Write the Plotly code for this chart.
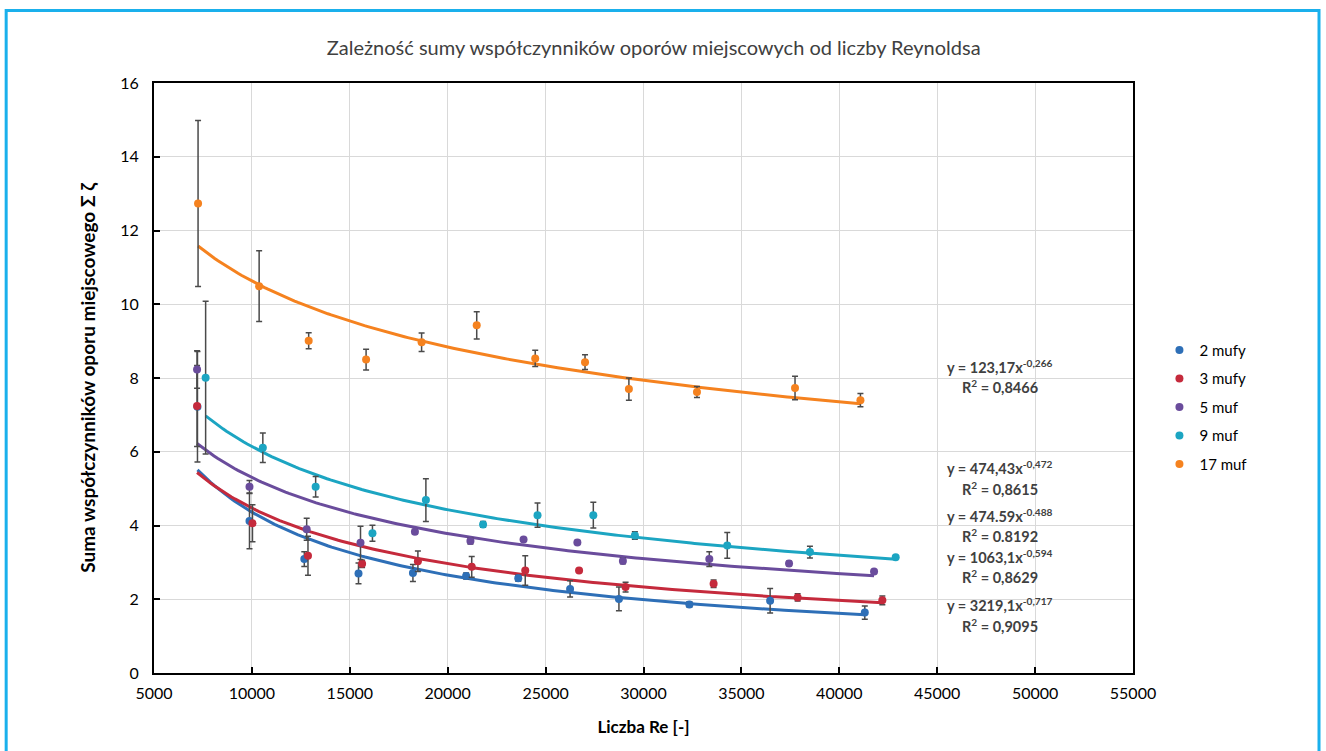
import numpy as np
import plotly.graph_objects as go

# ---------------- data ----------------
series_names = ["2 mufy", "3 mufy", "5 muf", "9 muf", "17 muf"]
series_colors = ["#2e6fb7", "#c52a3c", "#6a4c9c", "#1ca5c2", "#f5821f"]

re_2 = [7220, 9877, 12676, 15445, 18224, 20941, 23604, 26251, 28745, 32343, 36467, 41302]
z_2 = [7.22, 4.12, 3.09, 2.70, 2.71, 2.63, 2.57, 2.28, 2.01, 1.86, 1.96, 1.64]
e_2 = [1.50, 0.75, 0.20, 0.28, 0.23, 0.08, 0.08, 0.22, 0.32, 0.07, 0.33, 0.18]

re_3 = [7199, 10029, 12864, 15628, 18478, 21227, 23960, 26709, 29085, 33580, 37872, 42198]
z_3 = [7.24, 4.06, 3.18, 2.96, 3.03, 2.88, 2.78, 2.78, 2.33, 2.42, 2.05, 1.97]
e_3 = [1.10, 0.50, 0.53, 0.10, 0.28, 0.28, 0.40, 0.05, 0.13, 0.10, 0.10, 0.12]

re_5 = [7199, 9877, 12798, 15547, 18326, 21161, 23874, 26622, 28948, 33361, 37433, 41775]
z_5 = [8.23, 5.05, 3.90, 3.53, 3.83, 3.58, 3.62, 3.54, 3.04, 3.09, 2.97, 2.75]
e_5 = [0.51, 0.17, 0.30, 0.45, 0.06, 0.08, 0.05, 0.05, 0.08, 0.20, 0.06, 0.05]

re_9 = [7637, 10558, 13256, 16157, 18886, 21807, 24588, 27437, 29559, 34278, 38500, 42880]
z_9 = [8.01, 6.11, 5.05, 3.79, 4.69, 4.03, 4.28, 4.28, 3.73, 3.46, 3.28, 3.14]
e_9 = [2.07, 0.40, 0.28, 0.22, 0.58, 0.08, 0.33, 0.35, 0.10, 0.35, 0.16, 0.03]

re_17 = [7250, 10370, 12900, 15832, 18667, 21482, 24470, 27014, 29254, 32731, 37739, 41079]
z_17 = [12.73, 10.49, 9.01, 8.50, 8.97, 9.43, 8.53, 8.43, 7.70, 7.62, 7.73, 7.40]
e_17 = [2.25, 0.96, 0.22, 0.28, 0.25, 0.37, 0.22, 0.20, 0.30, 0.15, 0.32, 0.18]

# power trendline coefficients y = a * x^b (as displayed on the chart)
trend_a = [3219.1, 1063.1, 474.59, 474.43, 123.17]
trend_b = [-0.717, -0.594, -0.488, -0.472, -0.266]

eq_texts = [
    ("y = 123,17x<sup>-0,266</sup>", "R<sup>2</sup> = 0,8466"),
    ("y = 474,43x<sup>-0,472</sup>", "R<sup>2</sup> = 0,8615"),
    ("y = 474.59x<sup>-0.488</sup>", "R<sup>2</sup> = 0.8192"),
    ("y = 1063,1x<sup>-0,594</sup>", "R<sup>2</sup> = 0,8629"),
    ("y = 3219,1x<sup>-0,717</sup>", "R<sup>2</sup> = 0,9095"),
]

x_ticks = [5000, 10000, 15000, 20000, 25000, 30000, 35000, 40000, 45000, 50000, 55000]
y_ticks = [0, 2, 4, 6, 8, 10, 12, 14, 16]

xs = [re_2, re_3, re_5, re_9, re_17]
ys = [z_2, z_3, z_5, z_9, z_17]
es = [e_2, e_3, e_5, e_9, e_17]

FONT = "Lato"
TXT = "#404040"

fig = go.Figure()

# trendlines first (behind markers)
for i in range(5):
    xx = np.linspace(min(xs[i]), max(xs[i]), 200)
    yy = trend_a[i] * xx ** trend_b[i]
    fig.add_trace(go.Scatter(x=xx, y=yy, mode="lines",
                             line=dict(color=series_colors[i], width=3),
                             showlegend=False, hoverinfo="skip"))

for i in range(5):
    fig.add_trace(go.Scatter(
        x=xs[i], y=ys[i], mode="markers", name=series_names[i],
        legendgroup=series_names[i],
        marker=dict(color=series_colors[i], size=8),
        error_y=dict(type="data", array=es[i], visible=True,
                     color="#4a4a4a", thickness=1.5, width=3),
    ))

# equation labels
eq_x = 48200
eq_y = [(8.32, 7.78), (5.56, 4.99), (4.28, 3.72), (3.17, 2.63), (1.87, 1.28)]
for (t1, t2), (y1, y2) in zip(eq_texts, eq_y):
    fig.add_annotation(x=eq_x, y=y1, xref="x", yref="y", text=t1, showarrow=False,
                       font=dict(family=FONT, size=14.5, color=TXT, weight="bold"))
    fig.add_annotation(x=eq_x, y=y2, xref="x", yref="y", text=t2, showarrow=False,
                       font=dict(family=FONT, size=14.5, color=TXT, weight="bold"))

# outer light-blue frame
fig.add_shape(type="rect", xref="paper", yref="paper",
              x0=-0.151, x1=1.190, y0=-0.3, y1=1.123,
              line=dict(color="#1ab0ec", width=3), layer="below")

fig.update_layout(
    width=1326, height=751,
    margin=dict(l=154, r=193, t=83, b=78),
    paper_bgcolor="white", plot_bgcolor="white",
    font=dict(family=FONT, color=TXT),
    title=dict(text="Zależność sumy współczynników oporów miejscowych od liczby Reynoldsa",
               x=0.493, xanchor="center", y=0.936, yanchor="middle",
               font=dict(family=FONT, size=20, color=TXT)),
    xaxis=dict(range=[5000, 55000], tickvals=x_ticks, ticktext=[str(v) for v in x_ticks],
               showgrid=True, gridcolor="#d9d9d9", gridwidth=1,
               showline=True, linecolor="#000000", linewidth=2, mirror=True,
               ticks="inside", ticklen=6, tickcolor="#000000", tickwidth=2,
               ticklabelstandoff=5,
               zeroline=False, tickfont=dict(family=FONT, size=16, color="#000000"),
               title=dict(text="Liczba Re [-]", standoff=20,
                          font=dict(family=FONT, size=17, color="#000000", weight="bold"))),
    yaxis=dict(range=[0, 16], tickvals=y_ticks, ticktext=[str(v) for v in y_ticks],
               showgrid=True, gridcolor="#d9d9d9", gridwidth=1,
               showline=True, linecolor="#000000", linewidth=2, mirror=True,
               ticks="inside", ticklen=6, tickcolor="#000000", tickwidth=2,
               ticklabelstandoff=10,
               zeroline=False, tickfont=dict(family=FONT, size=16, color="#000000"),
               title=dict(text="Suma współczynników oporu miejscowego Σ ζ", standoff=20,
                          font=dict(family=FONT, size=19, color="#000000", weight="bold"))),
    legend=dict(x=1.027, y=0.575, xanchor="left", yanchor="top",
                traceorder="grouped", tracegroupgap=6,
                font=dict(family=FONT, size=15, color="#000000"),
                bgcolor="rgba(0,0,0,0)"),
    showlegend=True,
)

fig.write_html("out.html")
